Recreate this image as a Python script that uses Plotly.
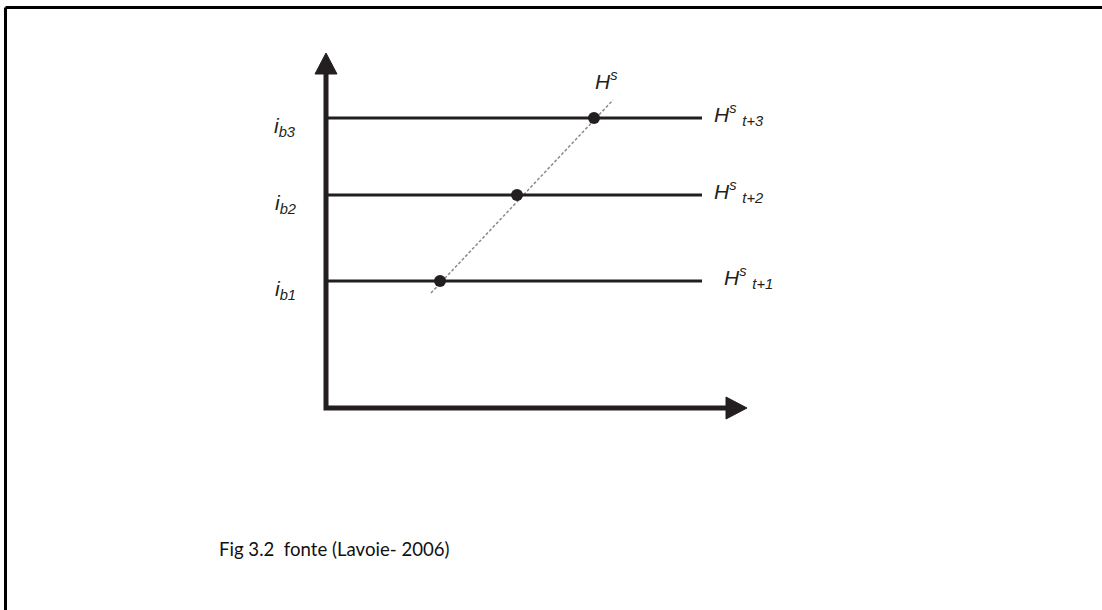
import plotly.graph_objects as go

# niveaux du taux d'intérêt (unités du schéma) et points d'équilibre
ib_levels = [12.7, 21.3, 29.0]
ib_labels = ["<i>i<sub>b1</sub></i>", "<i>i<sub>b2</sub></i>", "<i>i<sub>b3</sub></i>"]
dot_x = [11.4, 19.1, 26.8]
supply_end = 37.6
supply_labels = ["<i>H<sup>s</sup> <sub>t+1</sub></i>",
                 "<i>H<sup>s</sup> <sub>t+2</sub></i>",
                 "<i>H<sup>s</sup> <sub>t+3</sub></i>"]
hs_x = [10.5, 28.7]
hs_y = [11.5, 30.8]
axis_x_max = 42.1
axis_y_max = 35.5
caption = "Fig 3.2&nbsp; fonte (Lavoie- 2006)"

INK = "#231f20"
W, H = 1102, 610
X0, Y0 = -32.6, -20.2   # 1 unité = 10 px
HEAD_L, HEAD_W = 2.1, 1.1

fig = go.Figure()

# droite H^s (pointillés)
fig.add_trace(go.Scatter(x=hs_x, y=hs_y, mode="lines",
                         line=dict(color="#8a8a8a", width=1.5, dash="3px,2px")))

# droites horizontales H^s t+n
for lvl in ib_levels:
    fig.add_trace(go.Scatter(x=[0, supply_end], y=[lvl, lvl], mode="lines",
                             line=dict(color=INK, width=3)))

# axes
fig.add_trace(go.Scatter(x=[0, 0, axis_x_max - HEAD_L], y=[axis_y_max - HEAD_L, 0, 0],
                         mode="lines", line=dict(color=INK, width=5)))
# pointes de flèches
fig.add_trace(go.Scatter(x=[-HEAD_W, HEAD_W, 0, -HEAD_W],
                         y=[axis_y_max - HEAD_L, axis_y_max - HEAD_L, axis_y_max, axis_y_max - HEAD_L],
                         mode="lines", fill="toself", fillcolor=INK, line=dict(color=INK, width=1)))
fig.add_trace(go.Scatter(x=[axis_x_max - HEAD_L, axis_x_max - HEAD_L, axis_x_max, axis_x_max - HEAD_L],
                         y=[-HEAD_W, HEAD_W, 0, -HEAD_W],
                         mode="lines", fill="toself", fillcolor=INK, line=dict(color=INK, width=1)))

# points
fig.add_trace(go.Scatter(x=dot_x, y=ib_levels, mode="markers",
                         marker=dict(color=INK, size=12)))

font = dict(family="Liberation Sans, Arial", size=21, color=INK)
for lvl, lab in zip(ib_levels, ib_labels):
    fig.add_annotation(x=-2.8, y=lvl, text=lab, showarrow=False, xanchor="right",
                       yanchor="middle", yshift=-9, font=font)
for i, (lvl, lab) in enumerate(zip(ib_levels, supply_labels)):
    fig.add_annotation(x=38.6 if i else 39.6, y=lvl, text=lab, showarrow=False,
                       xanchor="left", yanchor="middle", yshift=4, font=font)
fig.add_annotation(x=hs_x[1] - 2.0, y=hs_y[1] + 0.5, text="<i>H<sup>s</sup></i>",
                   showarrow=False, xanchor="left", yanchor="bottom", font=font)

fig.add_annotation(x=-10.9, y=-14.1, text=caption, showarrow=False, xanchor="left",
                   yanchor="middle", font=dict(family="Lato, Carlito, sans-serif", size=18.6, color="#111"))

# cadre (haut et gauche)
fig.add_shape(type="line", xref="paper", yref="paper", x0=5.5 / W, x1=1, y0=1 - 7.5 / H, y1=1 - 7.5 / H,
              line=dict(color="black", width=3))
fig.add_shape(type="line", xref="paper", yref="paper", x0=5.5 / W, x1=5.5 / W, y0=0, y1=1 - 7.5 / H,
              line=dict(color="black", width=3))

fig.update_xaxes(range=[X0, X0 + W / 10], visible=False, fixedrange=True)
fig.update_yaxes(range=[Y0, Y0 + H / 10], visible=False, fixedrange=True)
fig.update_layout(width=W, height=H, margin=dict(l=0, r=0, t=0, b=0),
                  showlegend=False, plot_bgcolor="white", paper_bgcolor="white")

fig.write_html("out.html", config={"displayModeBar": False},
               post_script="document.body.style.margin='0';")
